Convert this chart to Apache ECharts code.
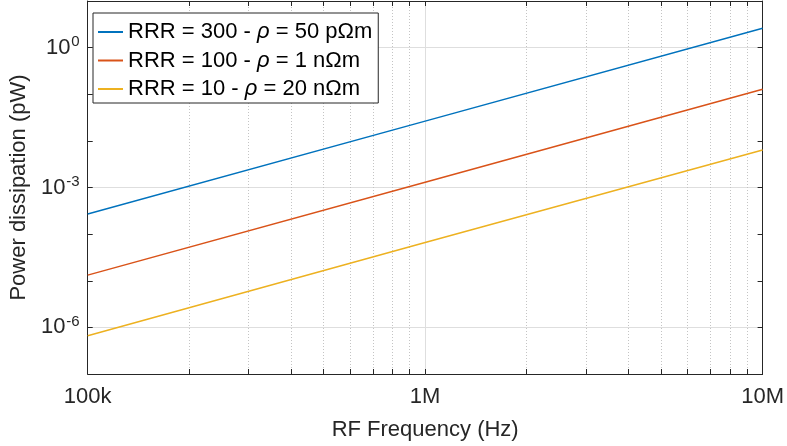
<!DOCTYPE html>
<html>
<head>
<meta charset="utf-8">
<script src="https://cdn.jsdelivr.net/npm/echarts@6/dist/echarts.min.js"></script>
<style>html,body{margin:0;padding:0;background:#fff}#c{width:787px;height:446px}</style>
</head>
<body>
<div id="c"></div>
<script>
// ---- data ----
const freqs = [1e5, 1e6, 1e7];
const seriesNames = ['RRR = 300 - ρ = 50 pΩm', 'RRR = 100 - ρ = 1 nΩm', 'RRR = 10 - ρ = 20 nΩm'];
const rrr300 = [2.7e-4, 2.65e-2, 2.6];
const rrr100 = [1.32e-5, 1.3e-3, 0.128];
const rrr10 = [6.6e-7, 6.6e-5, 6.4e-3];
const xMajorTicks = [1e5, 1e6, 1e7];
const xMajorLabels = ['100k', '1M', '10M'];
const xMinorTicks = [2e5, 3e5, 4e5, 5e5, 6e5, 7e5, 8e5, 9e5, 2e6, 3e6, 4e6, 5e6, 6e6, 7e6, 8e6, 9e6];
const yLabelExponents = [-6, -3, 0];
const yGridValues = [1e-6, 1e-3, 1];
const xAxisTitle = 'RF Frequency (Hz)';
const yAxisTitle = 'Power dissipation (pW)';

const colors = ['#0072BD', '#D95319', '#EDB120'];
const axisColor = '#262626';
const FONT = 'Liberation Sans, Arial, Helvetica, sans-serif';

function pairs(xs, ys) { return xs.map((x, i) => [x, ys[i]]); }
const allXTicks = xMajorTicks.concat(xMinorTicks).sort((a, b) => a - b);

const baseX = { type: 'log', logBase: 10, min: 1e5, max: 1e7, gridIndex: 0 };
const baseY = { type: 'log', logBase: 10, min: 1e-7, max: 10, gridIndex: 0 };
const hidden = { axisLine: { show: false }, axisLabel: { show: false } };

const chart = echarts.init(document.getElementById('c'), null, { renderer: 'canvas' });
chart.setOption({
  animation: false,
  backgroundColor: '#fff',
  color: colors,
  textStyle: { fontFamily: FONT },
  grid: { left: 80, right: 24, top: 1, bottom: 71, containLabel: false },
  xAxis: [
    Object.assign({}, baseX, {
      position: 'bottom',
      axisLine: { show: true, onZero: false, lineStyle: { color: axisColor, width: 1 } },
      axisTick: { show: true, inside: true, length: 5, customValues: allXTicks, lineStyle: { color: axisColor } },
      axisLabel: {
        show: true, customValues: xMajorTicks, margin: 12, color: axisColor, fontSize: 22, fontFamily: FONT,
        formatter: v => { const i = xMajorTicks.findIndex(t => Math.abs(t - v) / t < 1e-6); return i >= 0 ? xMajorLabels[i] : ''; }
      },
      splitLine: { show: false },
      name: xAxisTitle, nameLocation: 'middle', nameGap: 45,
      nameTextStyle: { color: axisColor, fontSize: 22, fontFamily: FONT }
    }),
    Object.assign({}, baseX, hidden, {
      position: 'bottom',
      axisTick: { show: false, customValues: xMinorTicks },
      splitLine: { show: true, lineStyle: { color: '#c4c4c4', type: [1, 2], width: 1 } }
    }),
    Object.assign({}, baseX, hidden, {
      position: 'bottom',
      axisTick: { show: false, customValues: xMajorTicks },
      splitLine: { show: true, lineStyle: { color: '#dedede', type: 'solid', width: 1 } }
    }),
    Object.assign({}, baseX, {
      position: 'top',
      axisLine: { show: true, onZero: false, lineStyle: { color: axisColor, width: 1 } },
      axisTick: { show: true, inside: true, length: 5, customValues: allXTicks, lineStyle: { color: axisColor } },
      axisLabel: { show: false },
      splitLine: { show: false }
    })
  ],
  yAxis: [
    Object.assign({}, baseY, {
      position: 'left', interval: 1,
      axisLine: { show: true, onZero: false, lineStyle: { color: axisColor, width: 1 } },
      axisTick: { show: true, inside: true, length: 5, lineStyle: { color: axisColor } },
      axisLabel: {
        show: true, margin: 8, color: axisColor, fontFamily: FONT,
        formatter: v => {
          const e = Math.round(Math.log10(v));
          return yLabelExponents.indexOf(e) >= 0 ? '{b|10}{s|' + e + '}' : '';
        },
        rich: {
          b: { fontSize: 22, color: axisColor, fontFamily: FONT },
          s: { fontSize: 15, color: axisColor, fontFamily: FONT, padding: [0, 0, 12, 1] }
        }
      },
      splitLine: { show: false },
      name: yAxisTitle, nameLocation: 'middle', nameGap: 53, nameRotate: 90,
      nameTextStyle: { color: axisColor, fontSize: 22, fontFamily: FONT }
    }),
    Object.assign({}, baseY, hidden, {
      position: 'left',
      axisTick: { show: false, customValues: yGridValues },
      splitLine: { show: true, lineStyle: { color: '#dedede', type: 'solid', width: 1 } }
    }),
    Object.assign({}, baseY, {
      position: 'right', interval: 1,
      axisLine: { show: true, onZero: false, lineStyle: { color: axisColor, width: 1 } },
      axisTick: { show: true, inside: true, length: 5, lineStyle: { color: axisColor } },
      axisLabel: { show: false },
      splitLine: { show: false }
    })
  ],
  legend: {
    orient: 'vertical', left: 93, top: 13,
    padding: [8, 6, 3, 5], itemGap: 6.5,
    itemWidth: 25, itemHeight: 2, icon: 'rect',
    backgroundColor: '#fff', borderColor: axisColor, borderWidth: 1, borderRadius: 0,
    textStyle: {
      fontSize: 22, color: '#000', fontFamily: FONT,
      rich: { i: { fontSize: 22, fontStyle: 'italic', color: '#000', fontFamily: FONT } }
    },
    formatter: name => name.replace('ρ', '{i|ρ}'),
    data: seriesNames
  },
  series: [rrr300, rrr100, rrr10].map((ys, i) => ({
    name: seriesNames[i], type: 'line', xAxisIndex: 0, yAxisIndex: 0,
    data: pairs(freqs, ys), showSymbol: false, symbol: 'none',
    lineStyle: { width: 1.5, color: colors[i] }, itemStyle: { color: colors[i] }, z: 3
  }))
});
</script>
</body>
</html>
